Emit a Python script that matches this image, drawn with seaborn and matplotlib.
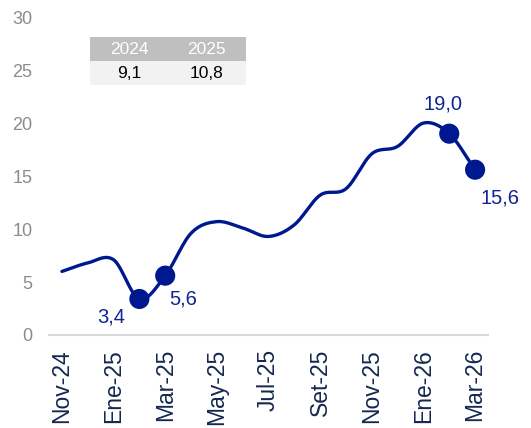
import seaborn as sns
import matplotlib.pyplot as plt
import numpy as np
import pandas as pd

# monthly values, Nov-24 .. Mar-26
months = ["Nov-24", "Dic-24", "Ene-25", "Feb-25", "Mar-25", "Abr-25", "May-25", "Jun-25",
          "Jul-25", "Ago-25", "Set-25", "Oct-25", "Nov-25", "Dic-25", "Ene-26", "Feb-26", "Mar-26"]
values = [6.0, 6.8, 7.1, 3.4, 5.6, 9.6, 10.7, 10.1, 9.3, 10.4, 13.2, 13.8, 17.1, 17.8, 20.0, 19.0, 15.6]

# highlighted points and their labels
marked_idx = [3, 4, 15, 16]
marked_txt = ["3,4", "5,6", "19,0", "15,6"]

# small summary table
table_years = ["2024", "2025"]
table_vals = ["9,1", "10,8"]

NAVY = "#00188F"

sns.set_theme(style="white")
plt.rcParams["font.family"] = ["Liberation Sans", "DejaVu Sans"]


def smooth(x, y, n=24):
    """ catmull-rom curve through the points, only for drawing """
    x = np.asarray(x, float)
    y = np.asarray(y, float)
    px = np.concatenate([[2 * x[0] - x[1]], x, [2 * x[-1] - x[-2]]])
    py = np.concatenate([[2 * y[0] - y[1]], y, [2 * y[-1] - y[-2]]])
    t = np.linspace(0, 1, n, endpoint=False)
    xs, ys = [], []
    for i in range(1, len(px) - 2):
        for p, out in ((px, xs), (py, ys)):
            p0, p1, p2, p3 = p[i - 1], p[i], p[i + 1], p[i + 2]
            out.extend(0.5 * (2 * p1 + (-p0 + p2) * t + (2 * p0 - 5 * p1 + 4 * p2 - p3) * t ** 2
                              + (-p0 + 3 * p1 - 3 * p2 + p3) * t ** 3))
    xs.append(x[-1])
    ys.append(y[-1])
    return np.array(xs), np.array(ys)


df = pd.DataFrame({"pos": np.arange(len(values)), "val": values})
sx, sy = smooth(df["pos"], df["val"])

fig = plt.figure(figsize=(5.31, 4.28), dpi=100)
ax = fig.add_axes([0.0923, 0.2173, 0.8267, 0.7427])

sns.lineplot(x=sx, y=sy, sort=False, color=NAVY, linewidth=2.4, ax=ax)
pts = df.iloc[marked_idx]
sns.scatterplot(x=pts["pos"], y=pts["val"], color=NAVY, s=210, edgecolor="none", zorder=5, ax=ax)

offsets = [(-28, -18), (18, -23), (-6, 30), (25, -28)]
for (i, txt), off in zip(zip(marked_idx, marked_txt), offsets):
    ax.annotate(txt, (df["pos"][i], df["val"][i]), xytext=off, textcoords="offset pixels",
                ha="center", va="center", fontsize=14.5, color="#0F2496")

ax.set_xlim(-0.5, len(values) - 0.5)
ax.set_ylim(0, 30)
ax.set_yticks(range(0, 31, 5))
ax.set_xticks(df["pos"][::2])
ax.set_xticklabels(months[::2], rotation=90, fontsize=16.5, color="#142850")
ax.tick_params(axis="y", labelsize=13, colors="#8C8C8C", pad=12, length=0)
ax.tick_params(axis="x", pad=10, length=0)
ax.set_xlabel("")
ax.set_ylabel("")
for s in ["top", "right", "left"]:
    ax.spines[s].set_visible(False)
ax.spines["bottom"].set_color("#D9D9D9")
ax.spines["bottom"].set_linewidth(1.5)

tbl = ax.table(cellText=[table_years, table_vals], cellLoc="center",
               cellColours=[["#BFBFBF"] * 2, ["#F2F2F2"] * 2],
               bbox=[0.0934, 0.786, 0.355, 0.151])
tbl.auto_set_font_size(False)
for (r, c), cell in tbl.get_celld().items():
    cell.set_edgecolor("none")
    cell.get_text().set_fontsize(12.5)
    cell.get_text().set_color("white" if r == 0 else "black")

fig.savefig("out.png", dpi=100)
